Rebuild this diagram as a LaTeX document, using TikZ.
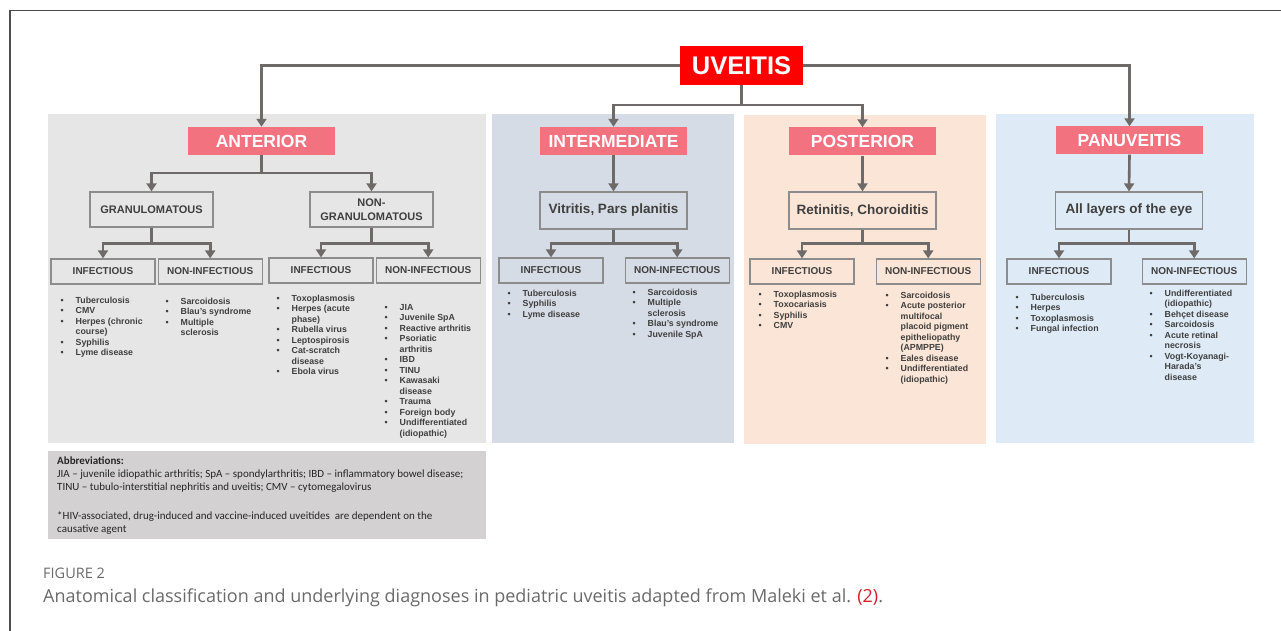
\documentclass[tikz,border=0pt]{standalone}
\usepackage{fontspec}
\setmainfont{Liberation Sans}
\newfontfamily\abbrfont{Carlito}
\newfontfamily\capfont{Open Sans}
\usetikzlibrary{positioning,arrows.meta,calc}
\pgfdeclarelayer{bg}
\pgfsetlayers{bg,main}
\definecolor{antgray}{HTML}{E7E6E6}
\definecolor{intblue}{HTML}{D6DCE5}
\definecolor{postpeach}{HTML}{FBE5D6}
\definecolor{panblue}{HTML}{DEEBF7}
\definecolor{abbrgray}{HTML}{D3D1D1}
\definecolor{uvred}{HTML}{FF0000}
\definecolor{catpink}{HTML}{F37280}
\definecolor{linkgray}{HTML}{6E6A6A}
\definecolor{boxgray}{HTML}{8C8C8C}
\definecolor{txtgray}{HTML}{3F3F3F}
\definecolor{framegray}{HTML}{4D4D4D}
\definecolor{capgray}{HTML}{6A6A6A}
\definecolor{refred}{HTML}{D4202C}
\newcommand{\lstitem}[1]{\strut\makebox[15pt][l]{\textbullet}#1}
\newcommand{\lstcont}[1]{\strut\hspace*{15pt}#1}

\begin{document}
\begin{tikzpicture}[x=1pt,y=-1pt,
  uvbox/.style={fill=uvred,text=white,font=\fontsize{25.5}{28}\selectfont\bfseries,
    minimum width=123pt,minimum height=39pt,inner sep=0pt},
  catbox/.style={fill=catpink,text=white,font=\fontsize{17.5}{20}\selectfont\bfseries,
    minimum width=147pt,minimum height=28pt,inner sep=0pt},
  subbox/.style={draw=boxgray,line width=1.2pt,text=txtgray,
    font=\fontsize{11}{13.5}\selectfont\bfseries,
    minimum width=123pt,minimum height=35pt,inner sep=0pt,align=center},
  sitebox/.style={subbox,font=\fontsize{13.5}{16}\selectfont\bfseries,
    minimum width=147pt,minimum height=37pt},
  typebox/.style={draw=boxgray,line width=1.2pt,text=txtgray,
    font=\fontsize{10}{12}\selectfont\bfseries,
    minimum width=104pt,minimum height=25pt,inner sep=0pt},
  dxlist/.style={anchor=north west,inner sep=0pt,align=left,text=txtgray,
    font=\fontsize{8.8}{10.5}\selectfont\bfseries},
  link/.style={draw=linkgray,line width=2.6pt,-{Triangle[width=10pt,length=8pt]}}]

\useasboundingbox (0,0) rectangle (1281,631);

% frame
\draw[framegray,line width=1.6pt] (10,631) -- (10,10.5) -- (1281,10.5);

% top level
\node[uvbox] (uv) at (741.5,65.5) {UVEITIS};

\node[catbox] (ant) at (261.5,141) {ANTERIOR};
\node[catbox] (int) at (613.5,141) {INTERMEDIATE};
\node[catbox] (post) at (862.5,141.5) {POSTERIOR};
\node[catbox] (pan) at (1129.5,140.5) {PANUVEITIS};

\node[subbox] (gran) at (151.5,209.5) {GRANULOMATOUS};
\node[subbox] (ngran) at (371.5,209.5) {NON-\\GRANULOMATOUS};
\node[sitebox] (vit) at (613.5,210.5) {Vitritis, Pars planitis};
\node[sitebox] (ret) at (862.5,210.5) {Retinitis, Choroiditis};
\node[sitebox] (all) at (1129,210.5) {All layers of the eye};

% infectious / non-infectious
\node[typebox] (ai1) at (103,271.5) {INFECTIOUS};
\node[typebox, right=2pt of ai1] (an1) {NON-INFECTIOUS};
\node[typebox] (ai2) at (321,270.5) {INFECTIOUS};
\node[typebox, right=2pt of ai2] (an2) {NON-INFECTIOUS};
\node[typebox] (ii) at (551,270.5) {INFECTIOUS};
\node[typebox, right=21pt of ii] (in) {NON-INFECTIOUS};
\node[typebox] (pi) at (802,271.5) {INFECTIOUS};
\node[typebox, right=21pt of pi] (pn) {NON-INFECTIOUS};
\node[typebox] (qi) at (1059,271.5) {INFECTIOUS};
\node[typebox, right=30pt of qi] (qn) {NON-INFECTIOUS};

% diagnoses
\node[dxlist] (ai1l) at (60.5,295.85) {\lstitem{Tuberculosis}\\\lstitem{CMV}\\
  \lstitem{Herpes (chronic}\\\lstcont{course)}\\\lstitem{Syphilis}\\\lstitem{Lyme disease}};
\node[dxlist] (an1l) at (165.5,296.85) {\lstitem{Sarcoidosis}\\\lstitem{Blau’s syndrome}\\
  \lstitem{Multiple}\\\lstcont{sclerosis}};
\node[dxlist] (ai2l) at (276.5,293.85) {\lstitem{Toxoplasmosis}\\\lstitem{Herpes (acute}\\
  \lstcont{phase)}\\\lstitem{Rubella virus}\\\lstitem{Leptospirosis}\\
  \lstitem{Cat-scratch}\\\lstcont{disease}\\\lstitem{Ebola virus}};
\node[dxlist] (an2l) at (384.5,302.85) {\lstitem{JIA}\\\lstitem{Juvenile SpA}\\
  \lstitem{Reactive arthritis}\\\lstitem{Psoriatic}\\\lstcont{arthritis}\\
  \lstitem{IBD}\\\lstitem{TINU}\\\lstitem{Kawasaki}\\\lstcont{disease}\\
  \lstitem{Trauma}\\\lstitem{Foreign body}\\\lstitem{Undifferentiated}\\
  \lstcont{(idiopathic)}};
\node[dxlist] (iil) at (507.5,288.85) {\lstitem{Tuberculosis}\\\lstitem{Syphilis}\\
  \lstitem{Lyme disease}};
\node[dxlist] (inl) at (632.5,287.85) {\lstitem{Sarcoidosis}\\\lstitem{Multiple}\\
  \lstcont{sclerosis}\\\lstitem{Blau’s syndrome}\\\lstitem{Juvenile SpA}};
\node[dxlist] (pil) at (758.5,289.85) {\lstitem{Toxoplasmosis}\\\lstitem{Toxocariasis}\\
  \lstitem{Syphilis}\\\lstitem{CMV}};
\node[dxlist] (pnl) at (885.5,290.85) {\lstitem{Sarcoidosis}\\\lstitem{Acute posterior}\\
  \lstcont{multifocal}\\\lstcont{placoid pigment}\\\lstcont{epitheliopathy}\\
  \lstcont{(APMPPE)}\\\lstitem{Eales disease}\\\lstitem{Undifferentiated}\\
  \lstcont{(idiopathic)}};
\node[dxlist] (qil) at (1015.5,292.85) {\lstitem{Tuberculosis}\\\lstitem{Herpes}\\
  \lstitem{Toxoplasmosis}\\\lstitem{Fungal infection}};
\node[dxlist] (qnl) at (1149.5,288.85) {\lstitem{Undifferentiated}\\\lstcont{(idiopathic)}\\
  \lstitem{Behçet disease}\\\lstitem{Sarcoidosis}\\\lstitem{Acute retinal}\\
  \lstcont{necrosis}\\\lstitem{Vogt-Koyanagi-}\\\lstcont{Harada’s}\\\lstcont{disease}};

% abbreviations
\node[anchor=north west,inner sep=0pt,align=left,text=black!85,
  font=\abbrfont\fontsize{11}{13}\selectfont] (abbr) at (57,455.4)
  {\strut\textbf{Abbreviations:}\\
   JIA – juvenile idiopathic arthritis; SpA – spondylarthritis; IBD – inflammatory bowel disease;\\
   TINU – tubulo-interstitial nephritis and uveitis; CMV – cytomegalovirus\\[16pt]
   *HIV-associated, drug-induced and vaccine-induced uveitides\ \ are dependent on the\\
   causative agent};

% caption
\node[anchor=base west,inner sep=0pt,text=capgray,
  font=\capfont\fontsize{14.5}{17}\selectfont] (fig) at (43,578.2) {FIGURE 2};
\node[anchor=base west,inner sep=0pt,text=capgray,
  font=\capfont\fontsize{18}{21}\selectfont] (cap) at (43,602.3)
  {Anatomical classification and underlying diagnoses in pediatric uveitis adapted from Maleki et al. \textcolor{refred}{(2)}.};

% connectors
\draw[link] (uv.west) -| (ant.north);
\draw[link] (uv.east) -| (pan.north);
\draw[link] (uv.south) -- ++(0,20) -| (int.north);
\draw[link] (uv.south) -- ++(0,20) -| (post.north);
\draw[link] (ant.south) -- ++(0,18) -| (gran.north);
\draw[link] (ant.south) -- ++(0,18) -| (ngran.north);
\draw[link] (int.south) -- (vit.north);
\draw[link] (post.south) -- (ret.north);
\draw[link] (pan.south) -- (all.north);
\draw[link] (gran.south) -- ++(0,16) -| (ai1.north);
\draw[link] (gran.south) -- ++(0,16) -| (an1.north);
\draw[link] (ngran.south) -- ++(0,16) -| (ai2.north);
\draw[link] (ngran.south) -- ++(0,16) -| (an2.north);
\draw[link] (vit.south) -- ++(0,14) -| (ii.north);
\draw[link] (vit.south) -- ++(0,14) -| (in.north);
\draw[link] (ret.south) -- ++(0,14) -| (pi.north);
\draw[link] (ret.south) -- ++(0,14) -| (pn.north);
\draw[link] (all.south) -- ++(0,14) -| (qi.north);
\draw[link] (all.south) -- ++(0,14) -| (qn.north);

\begin{pgfonlayer}{bg}
  \fill[antgray] (48,114) rectangle (486,443);
  \fill[intblue] (492,114) rectangle (734,443);
  \fill[postpeach] (744,115) rectangle (986,444);
  \fill[panblue] (996,114) rectangle (1254,443);
  \fill[abbrgray] (48,451) rectangle (486,539);
\end{pgfonlayer}
\end{tikzpicture}
\end{document}
